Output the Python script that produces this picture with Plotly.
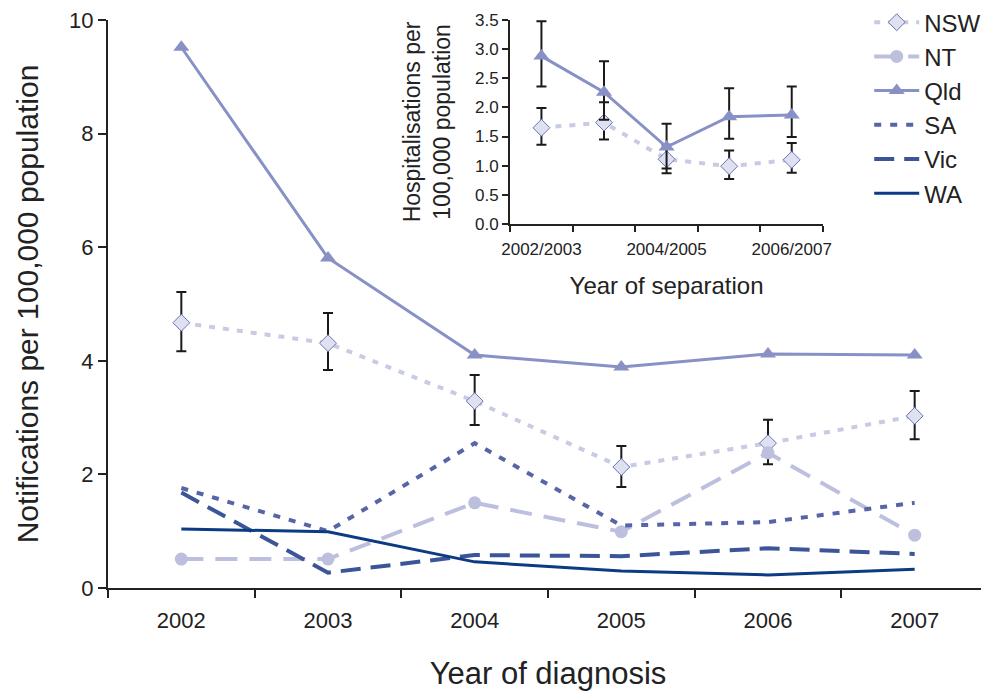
import plotly.graph_objects as go

# main chart: notifications by year of diagnosis
years = ['2002', '2003', '2004', '2005', '2006', '2007']
nsw = [4.67, 4.31, 3.29, 2.13, 2.55, 3.03]
nsw_hi = [5.21, 4.84, 3.75, 2.50, 2.96, 3.47]
nsw_lo = [4.17, 3.84, 2.87, 1.78, 2.18, 2.62]
nt = [0.51, 0.51, 1.50, 0.99, 2.38, 0.93]
qld = [9.52, 5.81, 4.10, 3.89, 4.12, 4.10]
sa = [1.76, 1.00, 2.55, 1.10, 1.16, 1.50]
vic = [1.68, 0.27, 0.58, 0.56, 0.70, 0.60]
wa = [1.04, 0.99, 0.46, 0.30, 0.23, 0.33]

# inset: hospitalisations by year of separation
seps = ['2002/2003', '2003/2004', '2004/2005', '2005/2006', '2006/2007']
sep_labels = ['2002/2003', '', '2004/2005', '', '2006/2007']
h_qld = [2.88, 2.26, 1.32, 1.84, 1.87]
h_qld_hi = [3.48, 2.79, 1.72, 2.33, 2.36]
h_qld_lo = [2.36, 1.79, 0.95, 1.46, 1.49]
h_nsw = [1.65, 1.74, 1.11, 0.99, 1.10]
h_nsw_hi = [1.99, 2.09, 1.36, 1.26, 1.39]
h_nsw_lo = [1.36, 1.45, 0.87, 0.77, 0.88]


def err(v, hi, lo):
    return dict(type='data', symmetric=False,
                array=[h - x for h, x in zip(hi, v)],
                arrayminus=[x - l for l, x in zip(lo, v)],
                color='#1a1a1a', thickness=2, width=5)


fig = go.Figure()

fig.add_trace(go.Scatter(x=years, y=nsw, name='NSW', mode='lines+markers',
                         line=dict(color='#c8cbe4', width=4, dash='6px,8px'),
                         marker=dict(symbol='diamond', size=13, color='#dfe1f1',
                                     line=dict(color='#6a76b6', width=1)),
                         error_y=err(nsw, nsw_hi, nsw_lo)))
fig.add_trace(go.Scatter(x=years, y=nt, name='NT', mode='lines+markers',
                         line=dict(color='#bcc0de', width=4, dash='22px,12px'),
                         marker=dict(symbol='circle', size=13, color='#bcc0de')))
fig.add_trace(go.Scatter(x=years, y=qld, name='Qld', mode='lines+markers',
                         line=dict(color='#8891c5', width=3),
                         marker=dict(symbol='triangle-up', size=14, color='#8891c5')))
fig.add_trace(go.Scatter(x=years, y=sa, name='SA', mode='lines',
                         line=dict(color='#5664a8', width=4, dash='7px,9px')))
fig.add_trace(go.Scatter(x=years, y=vic, name='Vic', mode='lines',
                         line=dict(color='#3b5598', width=4, dash='20px,10px')))
fig.add_trace(go.Scatter(x=years, y=wa, name='WA', mode='lines',
                         line=dict(color='#0b3b82', width=3)))

# inset traces
fig.add_trace(go.Scatter(x=seps, y=h_nsw, mode='lines+markers', showlegend=False,
                         xaxis='x2', yaxis='y2',
                         line=dict(color='#c8cbe4', width=4, dash='6px,8px'),
                         marker=dict(symbol='diamond', size=13, color='#dfe1f1',
                                     line=dict(color='#6a76b6', width=1)),
                         error_y=err(h_nsw, h_nsw_hi, h_nsw_lo)))
fig.add_trace(go.Scatter(x=seps, y=h_qld, mode='lines+markers', showlegend=False,
                         xaxis='x2', yaxis='y2',
                         line=dict(color='#8891c5', width=3),
                         marker=dict(symbol='triangle-up', size=14, color='#8891c5'),
                         error_y=err(h_qld, h_qld_hi, h_qld_lo)))

axis_common = dict(showline=True, linecolor='#222', linewidth=2, ticks='outside',
                   tickcolor='#222', tickwidth=2, showgrid=False, zeroline=False,
                   automargin=False, ticklabeloverflow='allow')

fig.update_layout(
    width=989, height=691,
    margin=dict(l=100, r=9, t=12, b=111, autoexpand=False),
    plot_bgcolor='white', paper_bgcolor='white',
    font=dict(family='Liberation Sans, Arial, sans-serif', color='#222', size=20),
    xaxis=dict(axis_common, type='category', range=[-0.5, 5.5], tickson='boundaries',
               ticklen=8, tickfont=dict(size=22), tickangle=0, ticklabelstandoff=12,
               title=dict(text='Year of diagnosis', font=dict(size=31), standoff=30)),
    yaxis=dict(axis_common, range=[0, 10], dtick=2, ticklen=8, tickfont=dict(size=22),
               title=dict(text='Notifications per 100,000 population',
                          font=dict(size=30), standoff=22)),
    xaxis2=dict(axis_common, type='category', range=[-0.5, 4.5], tickson='boundaries',
                tickvals=seps, ticktext=sep_labels, ticklen=6, tickangle=0,
                ticklabelstandoff=9,
                tickfont=dict(size=17), domain=[0.457, 0.8125], anchor='y2',
                title=dict(text='Year of separation', font=dict(size=24), standoff=19)),
    yaxis2=dict(axis_common, range=[0, 3.5], dtick=0.5, tickformat='.1f', ticklen=6,
                tickfont=dict(size=17), domain=[0.641, 1.0], anchor='x2',
                title=dict(text='Hospitalisations per<br>100,000 population',
                           font=dict(size=23), standoff=18)),
    legend=dict(x=0.865, y=1.035, xanchor='left', yanchor='top',
                font=dict(size=24), bgcolor='rgba(0,0,0,0)', tracegroupgap=0,
                itemwidth=45),
)

fig.write_html('out.html')
